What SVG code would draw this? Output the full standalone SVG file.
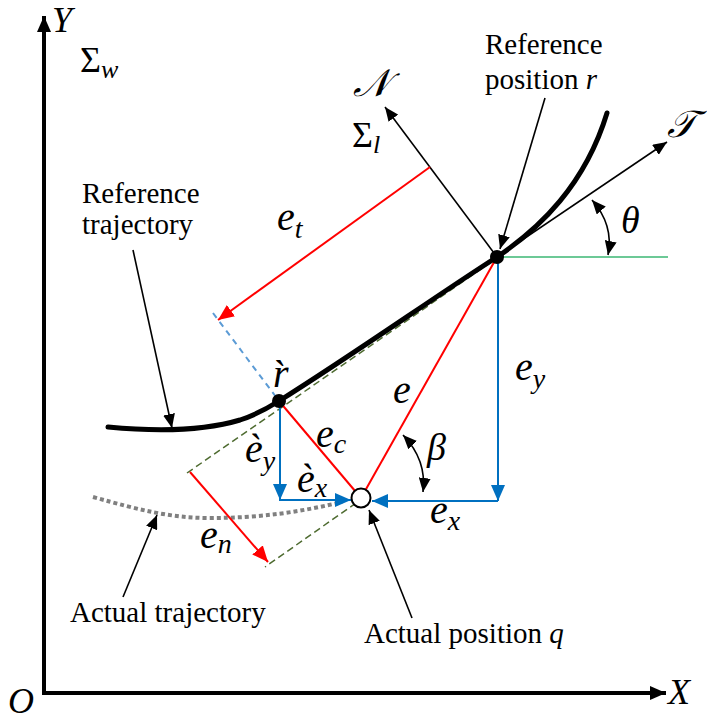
<svg xmlns="http://www.w3.org/2000/svg" width="707" height="720" viewBox="0 0 707 720">
<style>
.txt{font-family:"Liberation Serif","Times New Roman",serif;font-size:29px;fill:#000}
.it{font-style:italic}
.big{font-size:36px}
.sig{font-size:36px}
.scr{font-family:"DejaVu Serif","DejaVu Sans",serif;font-size:38px}
.m{font-family:"Liberation Serif","Times New Roman",serif;font-style:italic;font-size:40px;fill:#000}
.gr{font-size:38px}
.sub{font-size:28px}
.ax{stroke:#000;stroke-width:4;fill:none}
.thin{stroke:#000;stroke-width:1.6;fill:none}
.red{stroke:#ff0000;stroke-width:2;fill:none}
.blue{stroke:#0070c0;stroke-width:2;fill:none}
.green{stroke:#6cc996;stroke-width:2;fill:none}
.dblue{stroke:#5b9bd5;stroke-width:2;stroke-dasharray:6 5;fill:none}
.dgreen{stroke:#4e6b30;stroke-width:1.5;stroke-dasharray:7 4;fill:none}
.gray{stroke:#808080;stroke-width:4;stroke-dasharray:4 3;fill:none}
.traj{stroke:#000;stroke-width:5;fill:none;stroke-linecap:round}
</style>
<defs>
<marker id="aAx" markerUnits="userSpaceOnUse" markerWidth="18" markerHeight="16" refX="16" refY="8" orient="auto"><path d="M0,1 L16,8 L0,15 Z" fill="#000"/></marker>
<marker id="aBk" markerUnits="userSpaceOnUse" markerWidth="16" markerHeight="12" refX="14" refY="6" orient="auto-start-reverse"><path d="M0,0 L14,6 L0,12 Z" fill="#000"/></marker>
<marker id="aRd" markerUnits="userSpaceOnUse" markerWidth="18" markerHeight="14" refX="16" refY="7" orient="auto"><path d="M0,0 L16,7 L0,14 Z" fill="#ff0000"/></marker>
<marker id="aBl" markerUnits="userSpaceOnUse" markerWidth="18" markerHeight="14" refX="16" refY="7" orient="auto"><path d="M0,0 L16,7 L0,14 Z" fill="#0070c0"/></marker>
</defs>

<g id="axes">
<line class="ax" x1="44" y1="695" x2="44" y2="16" marker-end="url(#aAx)"/>
<line class="ax" x1="42" y1="693" x2="666" y2="693" marker-end="url(#aAx)"/>
<text class="txt it big" x="52" y="32">Y</text>
<text class="txt it big" x="668" y="704">X</text>
<text class="txt it big" x="8" y="713">O</text>
<text class="txt sig" x="80" y="72">Σ<tspan class="it" font-size="26" dy="6">w</tspan></text>
</g>

<g id="connectors">
<line class="dgreen" x1="187" y1="473" x2="497" y2="258"/>
<line class="dgreen" x1="356" y1="503" x2="265" y2="567"/>
<line class="dblue" x1="213" y1="313" x2="279" y2="401"/>
<path class="gray" d="M93,497 C140,510 170,518 210,518 C260,518 300,512 342,502"/>
<line class="thin" x1="497" y1="257" x2="385" y2="107" marker-end="url(#aBk)"/>
<line class="thin" x1="497" y1="257" x2="667" y2="142" marker-end="url(#aBk)"/>
<line class="green" x1="497" y1="257" x2="668" y2="257"/>
<path class="traj" d="M108,427 C150,431 200,432 240,420 C255,415 268,408 279,401 C360,350 430,300 497,257 C540,228 585,185 607,113"/>
<line class="red" x1="430" y1="167" x2="218" y2="320" marker-end="url(#aRd)"/>
<line class="red" x1="190" y1="472" x2="268" y2="562" marker-end="url(#aRd)"/>
<line class="red" x1="497" y1="257" x2="361" y2="498"/>
<line class="red" x1="279" y1="401" x2="361" y2="498"/>
<line class="blue" x1="280" y1="403" x2="280" y2="500" marker-end="url(#aBl)"/>
<line class="blue" x1="279" y1="500" x2="351" y2="500" marker-end="url(#aBl)"/>
<line class="blue" x1="498" y1="260" x2="498" y2="501" marker-end="url(#aBl)"/>
<line class="blue" x1="498" y1="501" x2="372" y2="501" marker-end="url(#aBl)"/>
<path class="thin" d="M592,200 Q614,225 608,255" marker-start="url(#aBk)" marker-end="url(#aBk)"/>
<path class="thin" d="M403,435 Q427,460 423,492" marker-start="url(#aBk)" marker-end="url(#aBk)"/>
<line class="thin" x1="133" y1="250" x2="172" y2="428" marker-end="url(#aBk)"/>
<line class="thin" x1="545" y1="98" x2="500" y2="249" marker-end="url(#aBk)"/>
<line class="thin" x1="123" y1="597" x2="157" y2="515" marker-end="url(#aBk)"/>
<line class="thin" x1="412" y1="618" x2="369" y2="510" marker-end="url(#aBk)"/>
</g>

<g id="node-r">
<circle cx="497" cy="257" r="7" fill="#000"/>
<text class="txt" x="485" y="54">Reference</text>
<text class="txt" x="485" y="89">position <tspan class="it">r</tspan></text>
</g>
<g id="node-rgrave">
<circle cx="279" cy="401" r="7" fill="#000"/>
<text class="m" x="273" y="387">r̀</text>
</g>
<g id="node-q">
<circle cx="361" cy="498" r="9.5" fill="#fff" stroke="#000" stroke-width="2"/>
<text class="txt" x="364" y="643">Actual position <tspan class="it">q</tspan></text>
</g>
<g id="labels">
<text class="txt" x="82" y="203">Reference</text>
<text class="txt" x="82" y="234">trajectory</text>
<text class="txt" x="70" y="622">Actual trajectory</text>
<text class="txt it scr" x="353" y="96">𝒩</text>
<text class="txt it scr" x="667" y="137">𝒯</text>
<text class="txt sig" x="352" y="147">Σ<tspan class="it" font-size="26" dy="6">l</tspan></text>
<text class="m gr" x="621" y="233">θ</text>
<text class="m gr" x="427" y="460">β</text>
<text class="m" x="277" y="230">e<tspan class="sub" dy="8">t</tspan></text>
<text class="m" x="393" y="403">e</text>
<text class="m" x="316" y="447">e<tspan class="sub" dy="6">c</tspan></text>
<text class="m" x="245" y="462">è<tspan class="sub" dy="8">y</tspan></text>
<text class="m" x="297" y="492">è<tspan class="sub" dy="5">x</tspan></text>
<text class="m" x="515" y="380">e<tspan class="sub" dy="8">y</tspan></text>
<text class="m" x="430" y="523">e<tspan class="sub" dy="7">x</tspan></text>
<text class="m" x="200" y="548">e<tspan class="sub" dy="5">n</tspan></text>
</g>
</svg>
